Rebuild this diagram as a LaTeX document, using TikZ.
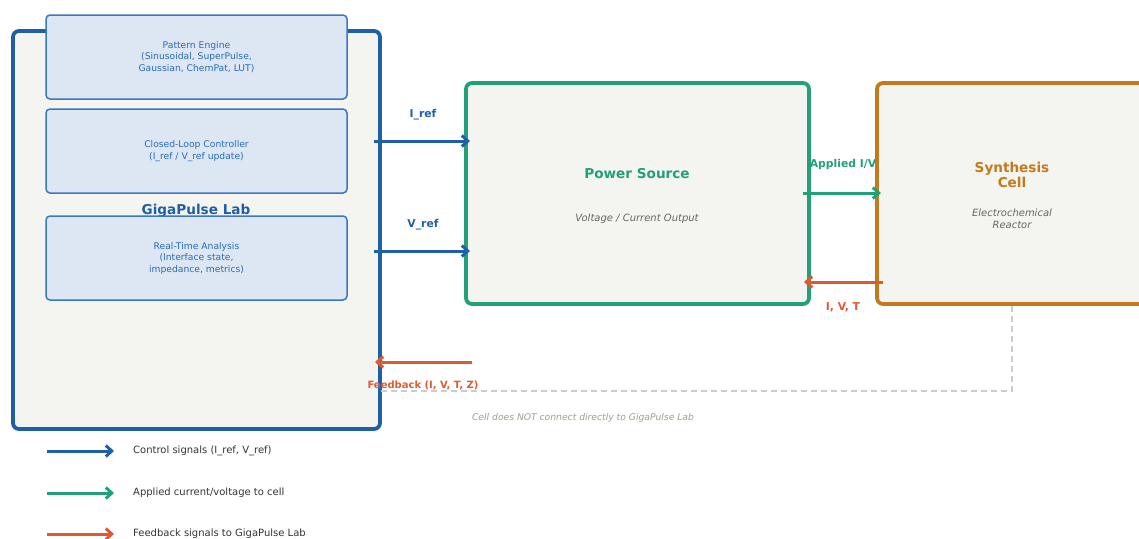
\documentclass[tikz,border=0pt]{standalone}
\usepackage{fontspec}
\setmainfont{DejaVu Sans}
\usetikzlibrary{arrows.meta}
\definecolor{labblue}{HTML}{1F5FA8}
\definecolor{innerblue}{HTML}{3A78C2}
\definecolor{innerfill}{HTML}{DCE7F3}
\definecolor{innertext}{HTML}{2B6BB5}
\definecolor{psgreen}{HTML}{22A07A}
\definecolor{cellorange}{HTML}{C27A1C}
\definecolor{fbred}{HTML}{E05A30}
\definecolor{boxfill}{HTML}{F4F4F0}
\definecolor{subgrey}{HTML}{666666}
\definecolor{dashgrey}{HTML}{CCCCCC}
\definecolor{notegrey}{HTML}{A09C8C}
\definecolor{legtext}{HTML}{333333}
\begin{document}
\begin{tikzpicture}[x=1pt,y=-1pt,
  bigbox/.style={rectangle, rounded corners=6pt, line width=3.8pt, fill=boxfill, inner sep=0pt},
  innerbox/.style={rectangle, rounded corners=4pt, line width=1.5pt, draw=innerblue, fill=innerfill,
    minimum width=301pt, minimum height=84pt, inner sep=0pt, align=center, text=innertext,
    font=\fontsize{9.2}{11.5}\selectfont},
  titletxt/.style={font=\fontsize{13.6}{15.5}\selectfont\bfseries, align=center, inner sep=0pt},
  subtxt/.style={font=\fontsize{10}{11.5}\selectfont\itshape, text=subgrey, align=center, inner sep=0pt},
  lbl/.style={font=\fontsize{10.8}{12}\selectfont\bfseries, inner sep=0pt},
  sig/.style={line width=3pt, -{Straight Barb[length=6pt,width=11pt]}},
  legtxt/.style={font=\fontsize{10}{12}\selectfont, text=legtext, anchor=west, inner sep=0pt}
]
\clip (0,0) rectangle (1139,538);
\useasboundingbox (0,0) rectangle (1139,538);

% GigaPulse Lab
\node[bigbox, draw=labblue, minimum width=367pt, minimum height=398pt] (lab) at (196.5,230) {};
\node[titletxt, text=labblue] (labtitle) at (196,211) {GigaPulse Lab};
\node[innerbox] (pattern) at (196.5,57) {Pattern Engine\\(Sinusoidal, SuperPulse,\\Gaussian, ChemPat, LUT)};
\node[innerbox] (ctrl) at (196.5,151) {Closed-Loop Controller\\(I\_ref / V\_ref update)};
\node[innerbox] (analysis) at (196.5,258) {Real-Time Analysis\\(Interface state,\\impedance, metrics)};

% Power Source
\node[bigbox, draw=psgreen, minimum width=343pt, minimum height=221pt] (ps) at (637.5,193.5) {};
\node[titletxt, text=psgreen] (pstitle) at (637,174) {Power Source};
\node[subtxt] (pssub) at (637,219) {Voltage / Current Output};

% Synthesis Cell
\node[bigbox, draw=cellorange, minimum width=272pt, minimum height=221pt] (cell) at (1013,193.5) {};
\node[titletxt, text=cellorange] (celltitle) at (1012,175) {Synthesis\\Cell};
\node[subtxt] (cellsub) at (1012,219) {Electrochemical\\Reactor};

% connector end points
\coordinate (irefA) at (374,141);  \coordinate (irefB) at (470,141);
\coordinate (vrefA) at (374,251);  \coordinate (vrefB) at (470,251);
\coordinate (appA) at (803,193);   \coordinate (appB) at (881,193);
\coordinate (ivtA) at (883,282);   \coordinate (ivtB) at (804,282);
\coordinate (fbA) at (472,362);    \coordinate (fbB) at (375,362);
\coordinate (dashcorner) at (1012,391);
\coordinate (dashend) at (380,391);

% dashed note line
\draw[dashgrey, line width=1.6pt, dash pattern=on 6pt off 4pt] (cell.south -| dashcorner) -- (dashcorner) -- (dashend);
\node[font=\fontsize{9.2}{10}\selectfont\itshape, text=notegrey, inner sep=0pt] (note) at (583,418) {Cell does NOT connect directly to GigaPulse Lab};

% signals
\draw[sig, labblue] (irefA) -- (irefB);
\node[lbl, text=labblue] (ireflbl) at (423,115) {I\_ref};
\draw[sig, labblue] (vrefA) -- (vrefB);
\node[lbl, text=labblue] (vreflbl) at (423,225) {V\_ref};
\draw[sig, psgreen] (appA) -- (appB);
\node[lbl, text=psgreen] (applbl) at (843,165) {Applied I/V};
\draw[sig, fbred] (ivtA) -- (ivtB);
\node[lbl, text=fbred] (ivtlbl) at (843,307) {I, V, T};
\draw[sig, fbred] (fbA) -- (fbB);
\node[lbl, text=fbred, font=\fontsize{10}{11}\selectfont\bfseries] (fblbl) at (423,385) {Feedback (I, V, T, Z)};

% legend
\coordinate (l1a) at (47,451); \coordinate (l1b) at (114,451);
\coordinate (l2a) at (47,493); \coordinate (l2b) at (114,493);
\coordinate (l3a) at (47,534); \coordinate (l3b) at (114,534);
\draw[sig, labblue] (l1a) -- (l1b);
\node[legtxt] (leg1) at (133,451) {Control signals (I\_ref, V\_ref)};
\draw[sig, psgreen] (l2a) -- (l2b);
\node[legtxt] (leg2) at (133,493) {Applied current/voltage to cell};
\draw[sig, fbred] (l3a) -- (l3b);
\node[legtxt] (leg3) at (133,534) {Feedback signals to GigaPulse Lab};
\end{tikzpicture}
\end{document}
